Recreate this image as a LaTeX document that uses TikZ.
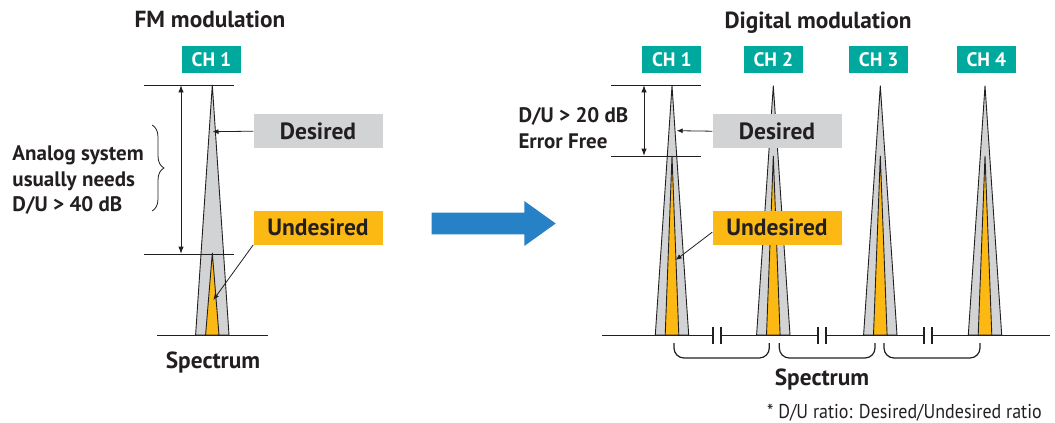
\documentclass[tikz,border=0pt]{standalone}
\usepackage{fontspec}
\setmainfont{PT Sans}
\newfontfamily\notefont[FakeStretch=0.9]{PT Sans}
\usetikzlibrary{arrows.meta,decorations.pathreplacing,positioning}
\definecolor{chteal}{RGB}{0,169,157}
\definecolor{desgray}{RGB}{209,211,212}
\definecolor{undorange}{RGB}{253,185,19}
\definecolor{bigblue}{RGB}{39,129,198}
\definecolor{ink}{RGB}{35,31,32}
\tikzset{%
	chbox/.style     = {fill=chteal, text=white, font=\bfseries\fontsize{19.5}{21}\selectfont, minimum width=59pt, minimum height=27pt, inner sep=0pt}, % channel tag
	desbox/.style    = {fill=desgray, text=ink, font=\bfseries\fontsize{23.5}{26}\selectfont, minimum width=129pt, minimum height=34pt, inner sep=0pt},
	undbox/.style    = {desbox, fill=undorange},
	heading/.style   = {text=ink, font=\bfseries\fontsize{23.3}{26}\selectfont, anchor=base, inner sep=0pt},
	sidetext/.style  = {text=ink, font=\bfseries\fontsize{21}{25.5}\selectfont, align=left, anchor=base west, inner sep=0pt},
	notetext/.style  = {text=ink, font=\notefont\fontsize{20}{22}\selectfont, anchor=base east, inner sep=0pt},
	peakout/.style   = {draw=ink, fill=desgray, line width=0.9pt}, % desired signal
	peakin/.style    = {draw=ink, fill=undorange, line width=0.9pt}, % undesired signal
	axisline/.style  = {draw=ink, line width=1.8pt},
	hairline/.style  = {draw=ink, line width=0.8pt},
	dimline/.style   = {hairline, {Latex[length=7pt,width=5.5pt]}-{Latex[length=7pt,width=5.5pt]}},
	pointer/.style   = {hairline, -{Latex[length=6pt,width=5pt]}},
}

\begin{document}
\begin{tikzpicture}[x=1pt, y=-1pt]
	\useasboundingbox (0,0) rectangle (1055,423);
	
	% FM modulation
	\node[heading] (fmtitle) at (210,27.7) {FM modulation};
	\node[chbox] (fmch) at (211.5,59.5) {CH 1};
	\draw[peakout] (195.6,335) -- (212.3,85) -- (229,335) -- cycle;
	\draw[peakin] (205.6,335) -- (212.3,253) -- (219,335) -- cycle;
	\draw[axisline] (157,335.5) -- (268,335.5);
	\coordinate (fmtop1) at (144,85);
	\coordinate (fmtop2) at (234,85);
	\coordinate (fmbot1) at (144,254);
	\coordinate (fmbot2) at (234,254);
	\draw[hairline] (fmtop1) -- (fmtop2);
	\draw[hairline] (fmbot1) -- (fmbot2);
	\draw[dimline] (181,85.4) -- (181,253.6);
	\coordinate (fmbrtop) at (152,125);
	\coordinate (fmbrbot) at (152,211);
	\draw[hairline, decorate, decoration={brace, amplitude=12pt}] (fmbrtop) -- (fmbrbot);
	\node[sidetext] (fmneed) at (12.3,211.7) {Analog system\\usually needs\\D/U > 40 dB};
	\node[desbox] (fmdes) at (318,131.2) {Desired};
	\node[undbox, below=62pt of fmdes] (fmund) {Undesired};
	\coordinate (fmdestip) at (212.5,131.7);
	\coordinate (fmundtip) at (213.3,300);
	\draw[pointer] (fmdes.west) -- (fmdestip);
	\draw[pointer] (fmund.south west) -- (fmundtip);
	\node[heading] (fmspec) at (213,368.3) {Spectrum};
	
	% big arrow
	\fill[bigblue] (431.7,212.7) -- (524.3,212.7) -- (524.3,201) -- (555.7,223.5) -- (524.3,246) -- (524.3,234.3) -- (431.7,234.3) -- cycle;
	
	% Digital modulation
	\node[heading] (dgtitle) at (818,28) {Digital modulation};
	\node[chbox] (ch1) at (671.8,59.5) {CH 1};
	\node[chbox] (ch2) at (773.3,59.5) {CH 2};
	\node[chbox] (ch3) at (878.7,59.5) {CH 3};
	\node[chbox] (ch4) at (986.3,59.5) {CH 4};
	\draw[peakout] (655.3,335) -- (672,85.7) -- (688.7,335) -- cycle;
	\draw[peakin] (665.2,335) -- (672,156) -- (678.8,335) -- cycle;
	\draw[peakout] (756.6,335) -- (773.3,85.7) -- (790,335) -- cycle;
	\draw[peakin] (766.5,335) -- (773.3,156) -- (780.1,335) -- cycle;
	\draw[peakout] (863.6,335) -- (880.3,85.7) -- (897,335) -- cycle;
	\draw[peakin] (873.5,335) -- (880.3,156) -- (887.1,335) -- cycle;
	\draw[peakout] (968.3,335) -- (985,85.7) -- (1001.7,335) -- cycle;
	\draw[peakin] (978.2,335) -- (985,156) -- (991.8,335) -- cycle;
	\draw[axisline] (602,335.5) -- (713.3,335.5);
	\draw[axisline] (720.7,335.5) -- (818.3,335.5);
	\draw[axisline] (825.7,335.5) -- (924,335.5);
	\draw[axisline] (931.7,335.5) -- (1050,335.5);
	\draw[axisline] (713.3,327) -- (713.3,344);
	\draw[axisline] (720.7,327) -- (720.7,344);
	\draw[axisline] (818.3,327) -- (818.3,344);
	\draw[axisline] (825.7,327) -- (825.7,344);
	\draw[axisline] (924,327) -- (924,344);
	\draw[axisline] (931.7,327) -- (931.7,344);
	\draw[hairline, line width=1.2pt, rounded corners=10pt] (674,343) -- (674,358) -- (769.3,358) -- (769.3,343);
	\draw[hairline, line width=1.2pt, rounded corners=10pt] (779.3,343) -- (779.3,358) -- (875,358) -- (875,343);
	\draw[hairline, line width=1.2pt, rounded corners=10pt] (884,343) -- (884,358) -- (980,358) -- (980,343);
	\coordinate (dgtop1) at (611,85);
	\coordinate (dgtop2) at (701,85);
	\coordinate (dgbot1) at (611,156);
	\coordinate (dgbot2) at (701,156);
	\draw[hairline] (dgtop1) -- (dgtop2);
	\draw[hairline] (dgbot1) -- (dgbot2);
	\draw[dimline] (644,85.4) -- (644,155.6);
	\node[sidetext] (dgneed) at (518.3,148.3) {D/U > 20 dB\\Error Free};
	\node[desbox] (dgdes) at (777,131.2) {Desired};
	\node[undbox, below=62pt of dgdes] (dgund) {Undesired};
	\coordinate (dgdestip) at (676.7,130.7);
	\coordinate (dgundtip) at (675.7,260);
	\draw[pointer] (dgdes.west) -- (dgdestip);
	\draw[pointer] ([yshift=-4.5pt]dgund.west) -- (dgundtip);
	\node[heading] (dgspec) at (822,385) {Spectrum};
	\node[notetext] (note) at (1042,418.3) {* D/U ratio: Desired/Undesired ratio};
\end{tikzpicture}
\end{document}
